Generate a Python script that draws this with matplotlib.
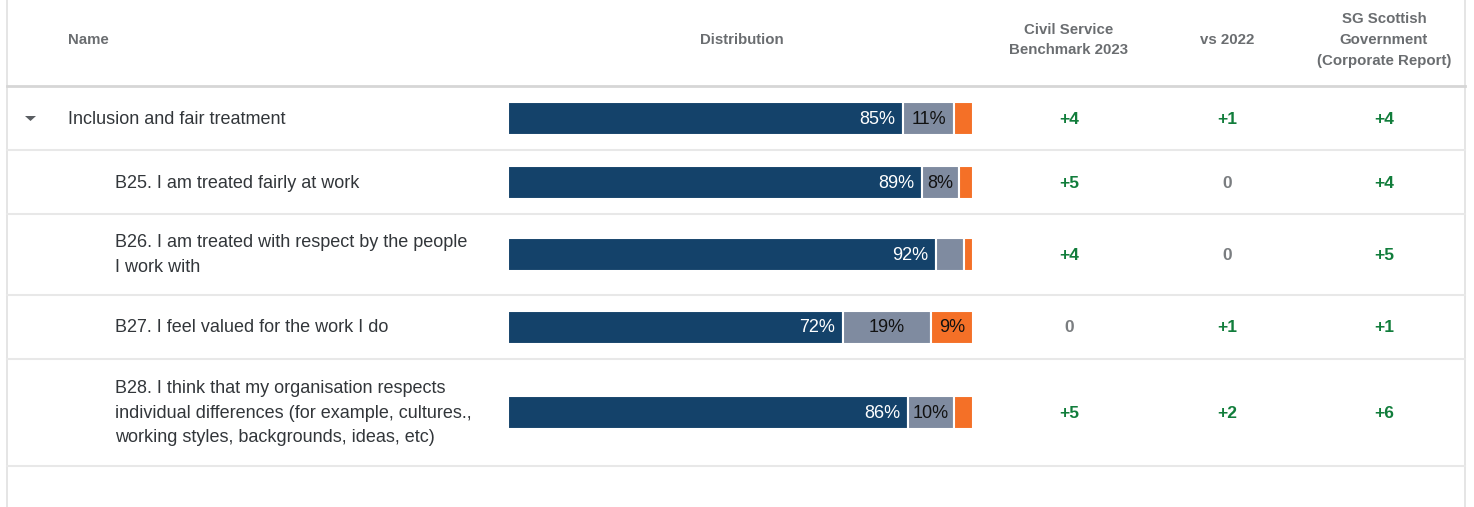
import numpy as np
import matplotlib
matplotlib.use("Agg")
import matplotlib.pyplot as plt
from matplotlib.patches import Polygon

plt.rcParams['font.family'] = ['Liberation Sans', 'DejaVu Sans']

# data
names = ["Inclusion and fair treatment",
         "B25. I am treated fairly at work",
         "B26. I am treated with respect by the people\nI work with",
         "B27. I feel valued for the work I do",
         "B28. I think that my organisation respects\nindividual differences (for example, cultures.,\nworking styles, backgrounds, ideas, etc)"]
positive = [85, 89, 92, 72, 86]
neutral = [11, 8, 6, 19, 10]
negative = [4, 3, 2, 9, 4]
benchmark = [4, 5, 4, 0, 5]
vs_2022 = [1, 0, 0, 1, 2]
sg_corporate = [4, 4, 5, 1, 6]
headers = ["Name", "Distribution", "Civil Service\nBenchmark 2023", "vs 2022",
           "SG Scottish\nGovernment\n(Corporate Report)"]

# layout (pixels)
W, H = 1474, 507
row_y = [119, 183, 255, 328, 413]
row_lines = [150, 214, 295, 359, 466]
label_x = [68, 115, 115, 115, 115]
col_x = [1069, 1227, 1384]

c_pos = "#14426a"
c_neu = "#7f8ba0"
c_neg = "#f47027"
c_green = "#117d3b"
c_grey = "#6a6d70"
c_text = "#32363a"

fig = plt.figure(figsize=(W / 100, H / 100), dpi=100)
bg = fig.add_axes([0, 0, 1, 1])
bg.set_xlim(0, W)
bg.set_ylim(H, 0)
bg.axis("off")

# borders and separators
bg.plot([7, 7], [0, H], color="#e0e0e0", lw=1.2)
bg.plot([1465, 1465], [0, H], color="#e0e0e0", lw=1.2)
bg.plot([7, 1465], [86, 86], color="#d6d6d6", lw=2)
for yl in row_lines:
    bg.plot([7, 1465], [yl, yl], color="#e8e8e8", lw=1.5)

# headers
bg.text(68, 40, headers[0], ha="left", va="center", fontsize=10.8, fontweight="bold", color=c_grey)
bg.text(742, 40, headers[1], ha="center", va="center", fontsize=10.8, fontweight="bold", color=c_grey)
for hx, ht in zip(col_x, headers[2:]):
    bg.text(hx, 40, ht, ha="center", va="center", fontsize=10.8, fontweight="bold",
            color=c_grey, linespacing=1.6)

# caret
bg.add_patch(Polygon([[25, 116], [36, 116], [30.5, 121]], closed=True, color="#5a5e62", lw=0))

# names
for nx, ny, nm in zip(label_x, row_y, names):
    bg.text(nx, ny, nm, ha="left", va="center", fontsize=13, color=c_text, linespacing=1.6)


def fmt(v):
    return "+%d" % v if v > 0 else "%d" % v


for vals, cx in zip([benchmark, vs_2022, sg_corporate], col_x):
    for v, ny in zip(vals, row_y):
        bg.text(cx, ny, fmt(v), ha="center", va="center", fontsize=12.5, fontweight="bold",
                color=c_green if v > 0 else "#7a7d80")

# distribution bars
ax = fig.add_axes([508 / W, 0, (973 - 508) / W, 1])
ax.set_xlim(0, 100)
ax.set_ylim(H, 0)
ax.axis("off")
pos = np.array(positive)
neu = np.array(neutral)
neg = np.array(negative)
bar_y = [y - 1 for y in row_y]
ax.barh(bar_y, pos, height=33, color=c_pos, edgecolor="white", linewidth=1.5)
ax.barh(bar_y, neu, left=pos, height=33, color=c_neu, edgecolor="white", linewidth=1.5)
ax.barh(bar_y, neg, left=pos + neu, height=33, color=c_neg, edgecolor="white", linewidth=1.5)

for y, p, n, g in zip(row_y, pos, neu, neg):
    ax.text(p - 1.7, y, "%d%%" % p, ha="right", va="center", fontsize=13, color="white")
    if n >= 8:
        ax.text(p + n / 2, y, "%d%%" % n, ha="center", va="center", fontsize=13, color="#111111")
    if g >= 8:
        ax.text(p + n + g / 2, y, "%d%%" % g, ha="center", va="center", fontsize=13, color="#111111")

fig.savefig("out.png", dpi=100)
